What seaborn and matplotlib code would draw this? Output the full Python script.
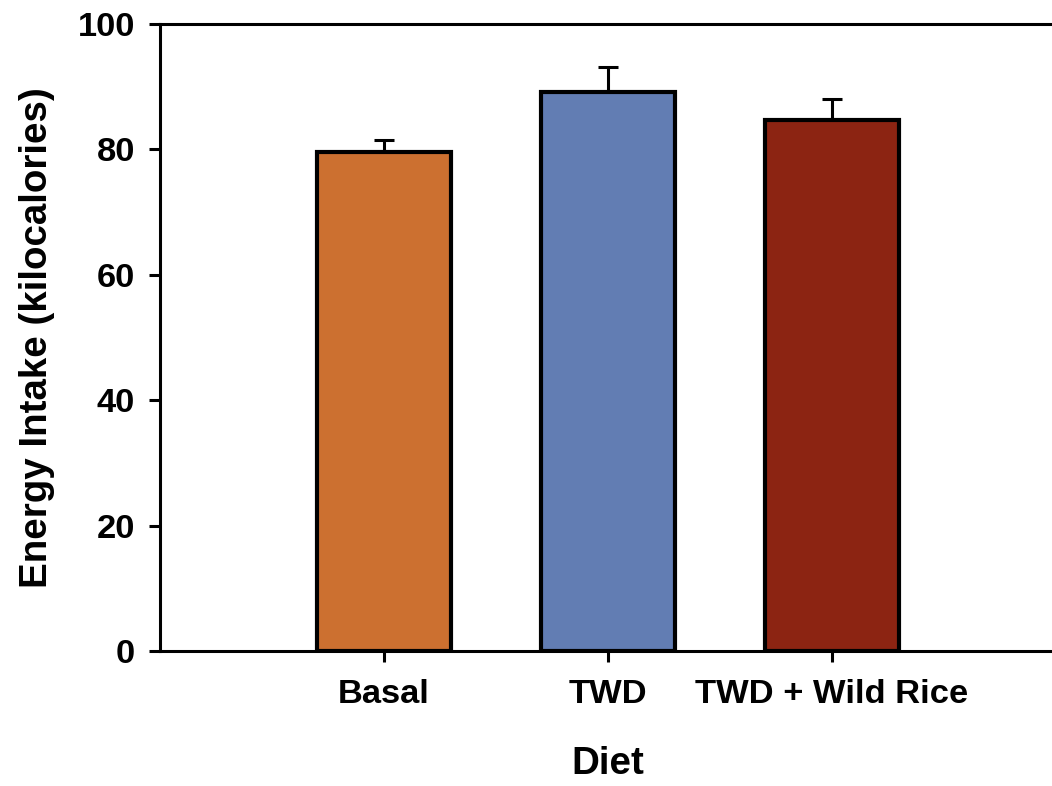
import matplotlib
matplotlib.use("Agg")
import matplotlib.pyplot as plt
import seaborn as sns
import pandas as pd

diets = ["Basal", "TWD", "TWD + Wild Rice"]
energy = [79.6, 89.2, 84.7]
sem = [1.9, 3.9, 3.4]
colors = ["#CC7030", "#627DB3", "#8C2412"]

sns.set_style("white")
plt.rcParams['font.family'] = ['Liberation Sans', 'DejaVu Sans']
plt.rcParams['font.weight'] = 'bold'
plt.rcParams['text.color'] = 'black'
plt.rcParams['axes.labelcolor'] = 'black'
plt.rcParams['xtick.color'] = 'black'
plt.rcParams['ytick.color'] = 'black'

df = pd.DataFrame({"Diet": diets, "Energy": energy})

fig = plt.figure(figsize=(10.52, 7.86), dpi=100)
ax = fig.add_axes([160/1052, (786-651)/786, 896/1052, (651-24)/786])

sns.barplot(data=df, x="Diet", y="Energy", hue="Diet", palette=colors,
            width=0.6, edgecolor="black", linewidth=3, saturation=1,
            legend=False, ax=ax, zorder=3)
ax.errorbar(range(len(diets)), energy, yerr=[[0]*len(sem), sem], fmt="none",
            ecolor="black", elinewidth=2.2, capsize=7.5, capthick=2.2, zorder=2)

ax.set_xlim(-1, 3)
ax.set_ylim(0, 100)
ax.set_yticks([0, 20, 40, 60, 80, 100])
ax.set_xlabel("Diet", fontsize=27.7, fontweight="bold", labelpad=26, color="black")
ax.set_ylabel("Energy Intake (kilocalories)", fontsize=27.7, fontweight="bold",
              labelpad=16, color="black")
ax.tick_params(axis="both", which="major", direction="out", length=8, width=2.2,
               labelsize=24.8, color="black", labelcolor="black", bottom=True, left=True)
ax.tick_params(axis="y", pad=10)
ax.tick_params(axis="x", pad=12)
for lab in ax.get_xticklabels() + ax.get_yticklabels():
    lab.set_fontweight("bold")

for side in ["left", "bottom", "top"]:
    ax.spines[side].set_visible(True)
    ax.spines[side].set_color("black")
    ax.spines[side].set_linewidth(2.2)
ax.spines["right"].set_visible(False)

fig.savefig("out.png", dpi=100)
